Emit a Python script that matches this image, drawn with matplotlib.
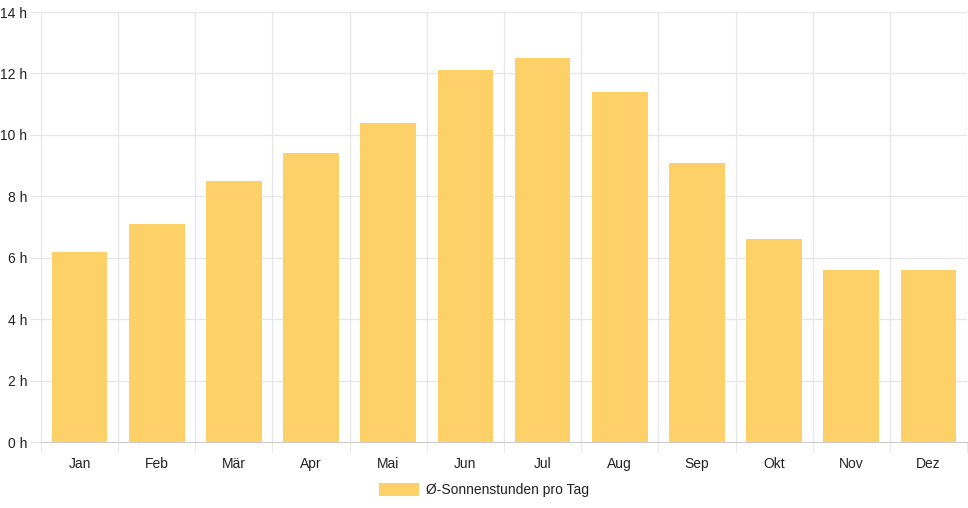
import numpy as np
import matplotlib.pyplot as plt
from matplotlib.patches import Patch

### data
months = ['Jan', 'Feb', 'Mär', 'Apr', 'Mai', 'Jun', 'Jul', 'Aug', 'Sep', 'Okt', 'Nov', 'Dez']
sun_hours = [6.2, 7.1, 8.5, 9.4, 10.4, 12.1, 12.5, 11.4, 9.1, 6.6, 5.6, 5.6]
y_ticks = [0, 2, 4, 6, 8, 10, 12, 14]
label = 'Ø-Sonnenstunden pro Tag'

bar_color = '#FED168'
grid_color = '#e6e6e6'
text_color = '#222222'

plt.rcParams['font.family'] = ['Liberation Sans', 'DejaVu Sans']
plt.rcParams['font.size'] = 10

### figure
W, H = 968, 508
fig = plt.figure(figsize=(W / 100, H / 100), dpi=100)
ax = fig.add_axes([41 / W, 1 - 442 / H, (967 - 41) / W, (442 - 12) / H])

x = np.arange(len(months))
ax.bar(x, sun_hours, width=0.72, color=bar_color, zorder=2)

ax.set_xlim(-0.5, len(months) - 0.5)
ax.set_ylim(0, 14)

### y axis
ax.set_yticks(y_ticks)
ax.set_yticklabels(['%d h' % v for v in y_ticks], color=text_color)
ax.tick_params(axis='y', length=8, color=grid_color, pad=2)
ax.grid(axis='y', color=grid_color, linewidth=0.9, zorder=0)

### x axis: labels at centres, grid at boundaries
ax.set_xticks(x)
ax.set_xticklabels(months, color=text_color)
ax.tick_params(axis='x', which='major', length=0, pad=11)
ax.set_xticks(np.arange(-0.5, len(months)), minor=True)
ax.tick_params(axis='x', which='minor', length=8, color=grid_color)
ax.grid(axis='x', which='minor', color=grid_color, linewidth=0.9, zorder=0)

for side in ['top', 'right', 'left']:
    ax.spines[side].set_visible(False)
ax.spines['bottom'].set_color('#cccccc')
ax.spines['bottom'].set_zorder(3)

### legend
handle = Patch(facecolor=bar_color, edgecolor='none')
fig.legend([handle], [label], loc='center', bbox_to_anchor=(484 / W, 1 - 490 / H),
           frameon=False, handlelength=2.9, handleheight=1.1, handletextpad=0.55,
           labelcolor=text_color)

plt.savefig('out.png', dpi=100)
